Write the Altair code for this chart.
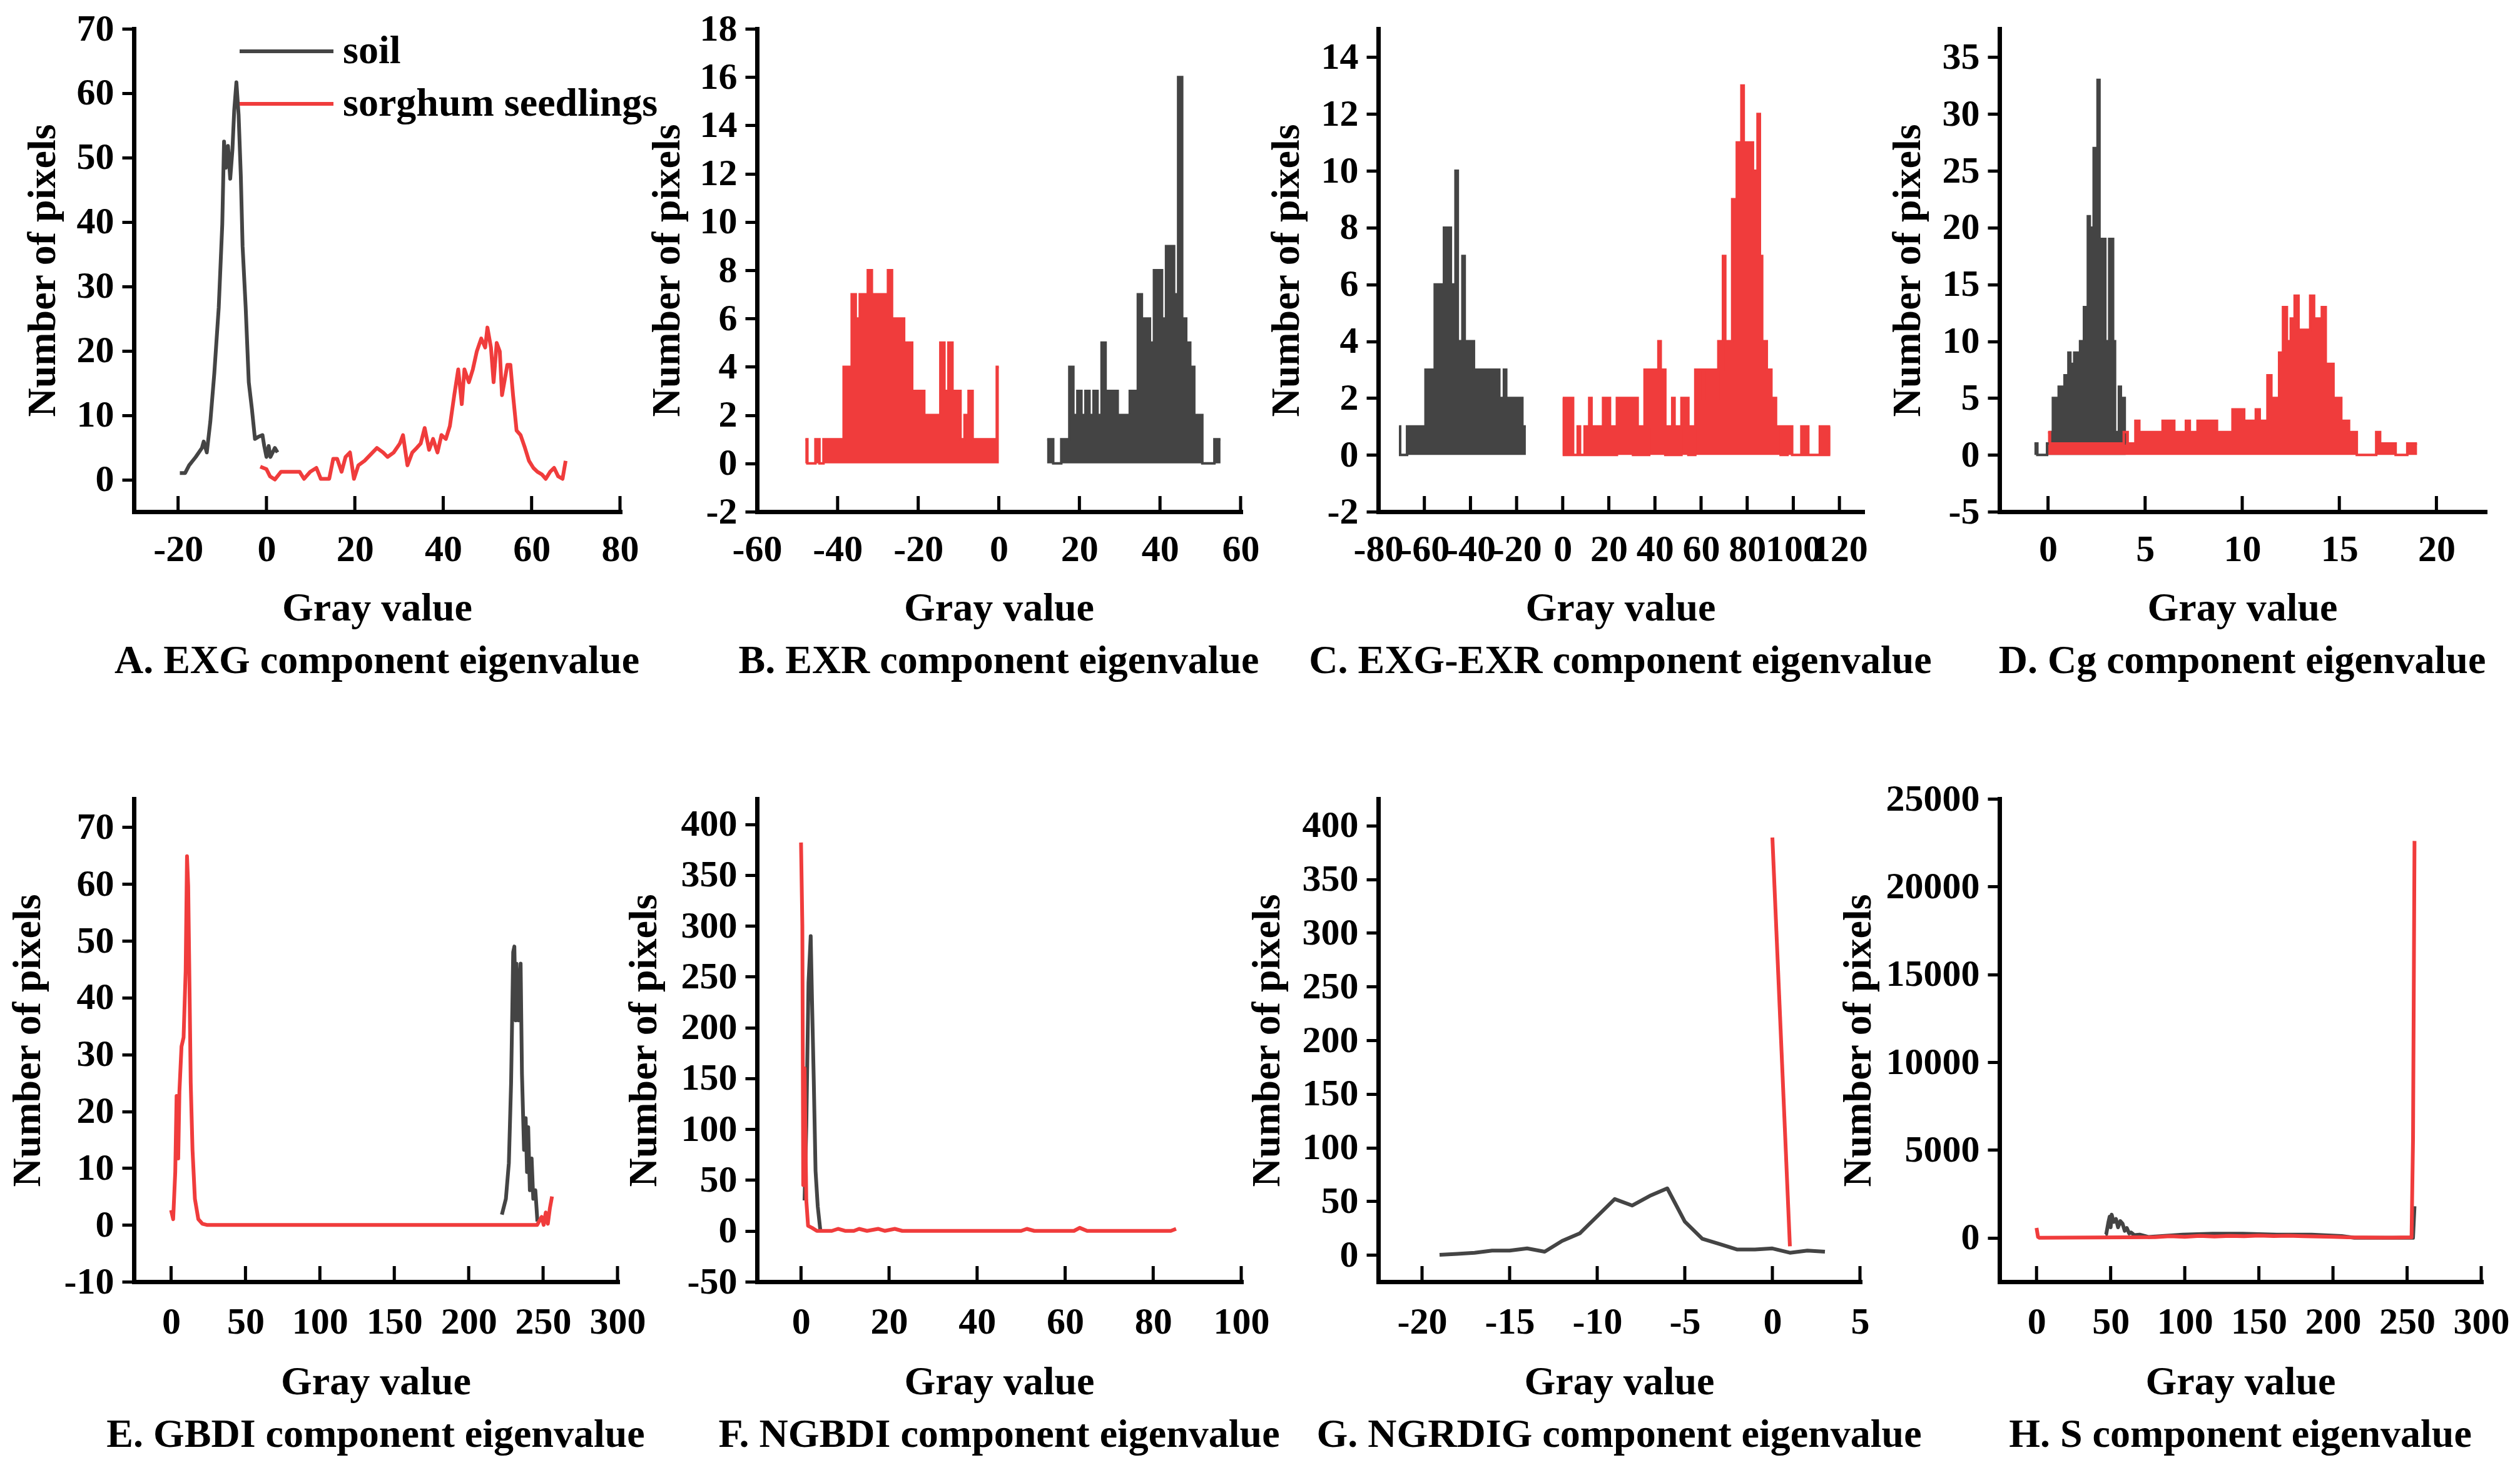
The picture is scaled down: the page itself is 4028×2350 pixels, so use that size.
import altair as alt
import pandas as pd

FONT = "Liberation Serif"
SOIL = "soil"
SORG = "sorghum seedlings"
GRAY = "#444444"
RED = "#f03c3c"

# ---------------- A. EXG ----------------
A_SOIL_X = [-19.6, -18.4, -17.5, -16, -14.6, -14.2, -13.5, -12.7, -11.8, -10.8,
            -10, -9.6, -9.2, -8.7, -8.2, -7.7, -7.3, -6.8, -6.3, -5.8,
            -5.4, -4.7, -4, -3.3, -2.6, -1.9, -0.9, -0.5, 0, 0.5, 0.9, 1.9, 2.5]
A_SOIL_Y = [1, 1, 2.2, 3.5, 4.9, 5.9, 4.2, 9, 16.5, 26.7,
            39.6, 52.5, 48.4, 51.8, 46.7, 51.2, 57.3, 61.7, 56.6, 47.1,
            36.2, 26.7, 15.1, 11, 6.3, 6.6, 6.9, 5.2, 3.5, 5.2, 3.5, 4.9, 4.2]
A_SORG_X = [-1.4, 0, 0.8, 1.9, 3.3, 4.7, 7.5, 8.5, 9.9, 11.3,
            12.3, 14.2, 15.1, 16, 17, 17.9, 18.9, 19.8, 20.8, 22.2,
            23.6, 25, 26.4, 27.4, 28.8, 30.2, 30.9, 31.9, 33, 34,
            34.9, 35.8, 36.8, 37.7, 38.7, 39.6, 40.6, 41.5, 42.5, 43.4,
            44.2, 44.8, 45.8, 46.7, 47.6, 48.6, 49.5, 50, 50.8, 51.4,
            52.1, 52.8, 53.3, 54, 54.5, 55.2, 55.8, 56.6, 57.5, 58.5,
            59.4, 60.4, 61.3, 62.3, 63.2, 64.2, 65.1, 66, 67, 67.7]
A_SORG_Y = [2, 1.6, 0.5, 0, 1.2, 1.2, 1.2, 0.1, 1.2, 1.8,
            0.1, 0.1, 3.2, 3.2, 1.2, 3.5, 4.2, 0.1, 2.2, 2.9,
            3.9, 4.9, 4.2, 3.5, 4.2, 5.6, 6.9, 2.2, 4.2, 4.9,
            5.6, 8, 4.6, 6.3, 4.2, 6.9, 6.3, 8.3, 13.1, 17.1,
            11.7, 17.1, 15.1, 17.1, 19.9, 21.9, 20.5, 23.6, 20.5, 15.1,
            21.2, 19.9, 13.1, 15.8, 17.8, 17.8, 13.1, 7.6, 6.9, 4.9,
            2.9, 1.8, 1.2, 0.8, 0.1, 1.2, 1.8, 0.5, 0.1, 2.9]

# ---------------- B. EXR (histogram bins of width 1) ----------------
B_STEP = 1
B_SOIL_X0 = 12
B_SOIL_Y = [1, 1, 0, 0, 1, 1, 4, 2, 3, 2,
            3, 2, 3, 2, 5, 3, 3, 3, 2, 2,
            2, 3, 3, 7, 6, 6, 5, 8, 8, 6,
            9, 9, 7, 16, 6, 5, 4, 2, 2, 0,
            0, 0, 1, 1]
B_SORG_X0 = -48
B_SORG_Y = [1, 0, 0, 1, 0, 1, 1, 1, 1, 1,
            4, 4, 7, 6, 7, 7, 8, 7, 7, 7,
            7, 8, 6, 6, 6, 5, 5, 3, 3, 3,
            2, 2, 2, 2, 5, 3, 5, 3, 3, 1,
            2, 3, 1, 1, 1, 1, 1, 1, 4]

# ---------------- C. EXG-EXR (histogram bins of width 1) ----------------
C_STEP = 1
C_SOIL_X0 = -71
C_SOIL_Y = [1, 0, 0, 0, 1, 1, 1, 1, 1, 1,
            1, 1, 3, 3, 3, 3, 6, 6, 6, 6,
            8, 8, 8, 6, 6, 10, 4, 4, 7, 4,
            4, 4, 4, 3, 3, 3, 3, 3, 3, 3,
            3, 3, 3, 3, 2, 2, 3, 2, 2, 2,
            2, 2, 2, 2, 1, 1]
C_SORG_X0 = 0
C_SORG_Y = [2, 0, 2, 0, 2, 0, 0, 1, 0, 0,
            1, 0, 2, 0, 1, 0, 1, 0, 2, 0,
            2, 0, 1, 0, 2, 2, 2, 2, 2, 2,
            2, 0, 2, 0, 1, 0, 3, 0, 3, 1,
            3, 1, 4, 1, 3, 0, 1, 0, 2, 0,
            1, 0, 2, 1, 2, 0, 1, 0, 3, 2,
            3, 3, 3, 2, 3, 3, 3, 2, 4, 3,
            7, 4, 4, 4, 9, 9, 11, 11, 13, 10,
            11, 11, 11, 10, 10, 12, 7, 4, 4, 3,
            3, 2, 2, 1, 1, 0, 1, 0, 1, 1,
            0, 0, 0, 0, 1, 0, 1, 0, 0, 0,
            0, 0, 1, 0, 1, 0, 1]

# ---------------- D. Cg (histogram bins) ----------------
D_SOIL_STEP = 0.1
D_SOIL_X0 = -0.7
D_SOIL_Y = [1, 1, 0, 0, 0, 0, 0,
            1, 1, 2, 5, 5, 5, 6, 6, 6, 7,
            7, 9, 8, 8, 9, 9, 9, 10, 10, 13,
            13, 21, 20, 20, 27, 27, 33, 19, 19, 19,
            10, 10, 19, 19, 10, 2, 2, 6, 5, 5,
            1]
D_SORG_STEP = 0.2
D_SORG_X0 = 0.0
D_SORG_Y = [2, 1, 1, 1, 1, 1, 1, 1, 1, 1,
            1, 1, 1, 1, 1, 1, 1, 1, 1, 1,
            2, 1, 1, 3, 2, 2, 2, 2, 2, 2,
            3, 3, 3, 2, 2, 2, 3, 2, 2, 3,
            3, 3, 3, 3, 2, 2, 2, 2, 4, 4,
            4, 3, 3, 3, 4, 3, 3, 7, 5, 5,
            9, 13, 10, 12, 14, 11, 11, 11, 14, 12,
            12, 13, 8, 8, 5, 5, 3, 3, 2, 2,
            0, 0, 0, 0, 0, 2, 1, 1, 1, 1,
            0, 0, 0, 1, 1, 1]

# ---------------- E. GBDI ----------------
E_SOIL_X = [222.3, 225, 227, 228.5, 229.3, 229.9, 230.7, 231.6, 232.1, 233.5, 234.9,
            235.8, 237.2, 238.3, 239.2, 240, 241.1, 242.3, 243.4, 244.8, 246.2]
E_SOIL_Y = [1.8, 4.6, 10.9, 25, 37.7, 48, 49, 36, 46, 36, 46,
            26.6, 13.2, 18.8, 9.3, 17.2, 6.1, 11.7, 4.6, 6.1, 0.6]
E_SORG_X = [0, 1.4, 2.8, 3.7, 4.8, 5.6, 7, 8.4, 9.8, 10.7,
            11.5, 12.4, 13.2, 14.4, 16, 18.3, 21, 24, 60, 100,
            150, 200, 246, 249, 250.4, 251.8, 253.2, 254.6, 256]
E_SORG_Y = [2.6, 1, 9.3, 22.7, 11.7, 23.5, 31.4, 33, 44.8, 64.9,
            59.7, 41.6, 25, 13.2, 4.6, 1, 0.2, 0, 0, 0,
            0, 0, 0, 1.4, 0, 2.2, 0.2, 3, 5]

# ---------------- F. NGBDI ----------------
F_SOIL_X = [0.8, 1.2, 1.7, 2.2, 2.5, 2.9, 3.3, 3.8, 4.4]
F_SOIL_Y = [30, 103, 244, 290, 226, 147, 59, 24, 0]
F_SORG_X = [0, 0.3, 0.5, 0.8, 1.2, 1.6, 2.5, 3.6, 7, 8.4, 10, 12, 13.2,
            15, 17.5, 19, 21.3, 23, 50, 51.3, 53, 62, 63.3, 65, 84, 85.2]
F_SORG_Y = [382, 300, 45, 160, 30, 5, 3, 0, 0, 2, 0, 0, 2,
            0, 2, 0, 2, 0, 0, 2, 0, 0, 3, 0, 0, 2]

# ---------------- G. NGRDIG ----------------
G_SOIL_X = [-19, -18, -17, -16, -15, -14, -13, -12, -11, -10, -9, -8,
            -7, -6, -5, -4, -3, -2, -1, 0, 1, 2, 3]
G_SOIL_Y = [0, 1, 2, 4, 4, 6, 3, 13, 20, 36, 52, 46,
            55, 62, 31, 15, 10, 5, 5, 6, 2, 4, 3]
G_SORG_X = [0, 1]
G_SORG_Y = [389, 8]

# ---------------- H. S ----------------
H_SOIL_X = [46.4, 47, 48.5, 49.3, 50, 50.7, 52, 53.6, 55, 56.5, 58, 59.5, 60.9,
            62.5, 63.8, 66, 69.6, 75.4, 98.6, 118.8, 139, 162, 185.5, 205.8,
            214.5, 254, 255]
H_SOIL_Y = [180, 200, 900, 1200, 600, 1320, 900, 1070, 600, 950, 815, 400, 560,
            250, 305, 150, 180, 50, 180, 230, 230, 180, 180, 100,
            0, 0, 1800]
H_SORG_X = [0, 1, 2, 20, 40, 60, 80, 90, 100, 110, 120, 130, 140, 150, 160,
            170, 180, 190, 200, 210, 220, 240, 253, 254, 255]
H_SORG_Y = [560, 50, 0, 10, 20, 30, 40, 90, 60, 110, 70, 110, 90, 130, 100,
            120, 90, 70, 60, 30, 20, 10, 30, 5600, 22600]


def bins(x0, step, ys):
    return [round(x0 + i * step, 4) for i in range(len(ys))]


def panel(soil_x, soil_y, sorg_x, sorg_y, xdom, ydom, xlabels, xticks, ylabels,
          w, h, caption, ytitle_x, xlab_pad, xtitle_y, legend=False, hist=False):
    df = pd.DataFrame({
        "x": list(soil_x) + list(sorg_x),
        "y": list(soil_y) + list(sorg_y),
        "series": [SOIL] * len(soil_x) + [SORG] * len(sorg_x),
    })
    if legend:
        leg = alt.Legend(orient="none", legendX=212, legendY=4, title=None,
                         symbolType="M-4,0H4", symbolSize=1406, symbolStrokeWidth=6,
                         labelFont=FONT, labelFontSize=64, labelFontWeight="bold",
                         labelColor="black", labelOffset=58, labelLimit=2000,
                         rowPadding=20, padding=0)
    else:
        leg = None
    xenc = alt.X("x:Q", scale=alt.Scale(domain=xdom, nice=False, zero=False),
                 axis=alt.Axis(values=xlabels, ticks=False, tickSize=0, labelPadding=xlab_pad,
                               labelBaseline="middle", labelExpr="'' + datum.value",
                               labelOverlap=False, labelFlush=False,
                               title="Gray value", titleX=w / 2, titleY=xtitle_y,
                               titleBaseline="middle", titleAlign="center"))
    yenc = alt.Y("y:Q", stack=None, scale=alt.Scale(domain=ydom, nice=False, zero=False),
                 axis=alt.Axis(values=ylabels, tickSize=19, labelPadding=13,
                               labelExpr="'' + datum.value", labelOverlap=False,
                               labelFlush=False, title="Number of pixels",
                               titleX=ytitle_x, titleY=h / 2, titleBaseline="middle",
                               titleAlign="center"))
    cscale = alt.Scale(domain=[SOIL, SORG], range=[GRAY, RED])
    layers = []
    if hist:
        area = alt.Chart(df).mark_area(interpolate="step", opacity=1).encode(
            x=xenc, y=yenc, y2=alt.Y2Datum(0),
            color=alt.Color("series:N", scale=cscale, legend=None),
        )
        outline = alt.Chart(df).mark_line(interpolate="step", strokeWidth=4,
                                          strokeJoin="miter").encode(
            x=xenc, y=yenc,
            color=alt.Color("series:N", scale=cscale, legend=leg),
        )
        layers += [area, outline]
    else:
        lines = alt.Chart(df).mark_line(strokeWidth=6, strokeJoin="round").encode(
            x=xenc, y=yenc,
            color=alt.Color("series:N", scale=cscale, legend=leg),
        )
        layers.append(lines)
    tdf = pd.DataFrame({"t": xticks})
    ticks = alt.Chart(tdf).mark_rule(color="black", strokeWidth=5).encode(
        x=alt.X("t:Q", title="Gray value"),
        y=alt.value(h),
        y2=alt.value(h - 25),
    )
    layers.append(ticks)
    return alt.layer(*layers).properties(
        width=w, height=h,
        title=alt.TitleParams(caption, orient="bottom", frame="group", anchor="middle",
                              offset=21, font=FONT, fontSize=64, fontWeight="bold",
                              color="black"),
    )


H1 = 772
H2 = 772

pA = panel(A_SOIL_X, A_SOIL_Y, A_SORG_X, A_SORG_Y, [-30, 80], [-5, 70],
           [-20, 0, 20, 40, 60, 80], [-20, 0, 20, 40, 60, 80], list(range(0, 71, 10)),
           777, H1, "A. EXG component eigenvalue", -146, 60, 154, legend=True)
pB = panel(bins(B_SOIL_X0, B_STEP, B_SOIL_Y), B_SOIL_Y,
           bins(B_SORG_X0, B_STEP, B_SORG_Y), B_SORG_Y, [-60, 60], [-2, 18],
           [-60, -40, -20, 0, 20, 40, 60], [-40, -20, 0, 20, 40, 60], list(range(-2, 19, 2)),
           773, H1, "B. EXR component eigenvalue", -144, 60, 154, hist=True)
pC = panel(bins(C_SOIL_X0, C_STEP, C_SOIL_Y), C_SOIL_Y,
           bins(C_SORG_X0, C_STEP, C_SORG_Y), C_SORG_Y, [-80, 130], [-2, 15],
           list(range(-80, 121, 20)), list(range(-60, 121, 20)), list(range(-2, 15, 2)),
           774, H1, "C. EXG-EXR component eigenvalue", -147, 60, 154, hist=True)
pD = panel(bins(D_SOIL_X0, D_SOIL_STEP, D_SOIL_Y), D_SOIL_Y,
           bins(D_SORG_X0, D_SORG_STEP, D_SORG_Y), D_SORG_Y, [-2.5, 22.5], [-5, 37.5],
           [0, 5, 10, 15, 20], [0, 5, 10, 15, 20], list(range(-5, 36, 5)),
           776, H1, "D. Cg component eigenvalue", -147, 60, 154, hist=True)
pE = panel(E_SOIL_X, E_SOIL_Y, E_SORG_X, E_SORG_Y, [-25, 300], [-10, 75],
           list(range(0, 301, 50)), list(range(0, 301, 50)), list(range(-10, 71, 10)),
           773, H2, "E. GBDI component eigenvalue", -170, 64, 160)
pF = panel(F_SOIL_X, F_SOIL_Y, F_SORG_X, F_SORG_Y, [-10, 100], [-50, 425],
           list(range(0, 101, 20)), list(range(0, 101, 20)), list(range(-50, 401, 50)),
           774, H2, "F. NGBDI component eigenvalue", -181, 64, 160)
pG = panel(G_SOIL_X, G_SOIL_Y, G_SORG_X, G_SORG_Y, [-22.5, 5], [-25, 425],
           [-20, -15, -10, -5, 0, 5], [-20, -15, -10, -5, 0, 5], list(range(0, 401, 50)),
           770, H2, "G. NGRDIG component eigenvalue", -178, 64, 160)
pH = panel(H_SOIL_X, H_SOIL_Y, H_SORG_X, H_SORG_Y, [-25, 300], [-2500, 25000],
           list(range(0, 301, 50)), list(range(0, 301, 50)), list(range(0, 25001, 5000)),
           770, H2, "H. S component eigenvalue", -226, 64, 160)

chart = alt.concat(pA, pB, pC, pD, pE, pF, pG, pH, columns=4, bounds="flush",
                   spacing={"row": 459, "column": 219}).resolve_scale(
    color="independent").resolve_legend(color="independent").properties(
    padding={"left": 4, "top": 8, "right": 5, "bottom": 5},
    background="white",
).configure_view(stroke=None).configure_axis(
    domainColor="black", domainWidth=7, domainCap="square",
    tickColor="black", tickWidth=5, grid=False,
    labelFont=FONT, labelFontSize=60, labelFontWeight="bold", labelColor="black",
    titleFont=FONT, titleFontSize=64, titleFontWeight="bold", titleColor="black",
)

chart.save("out.html", embed_options={"renderer": "svg", "actions": False})
